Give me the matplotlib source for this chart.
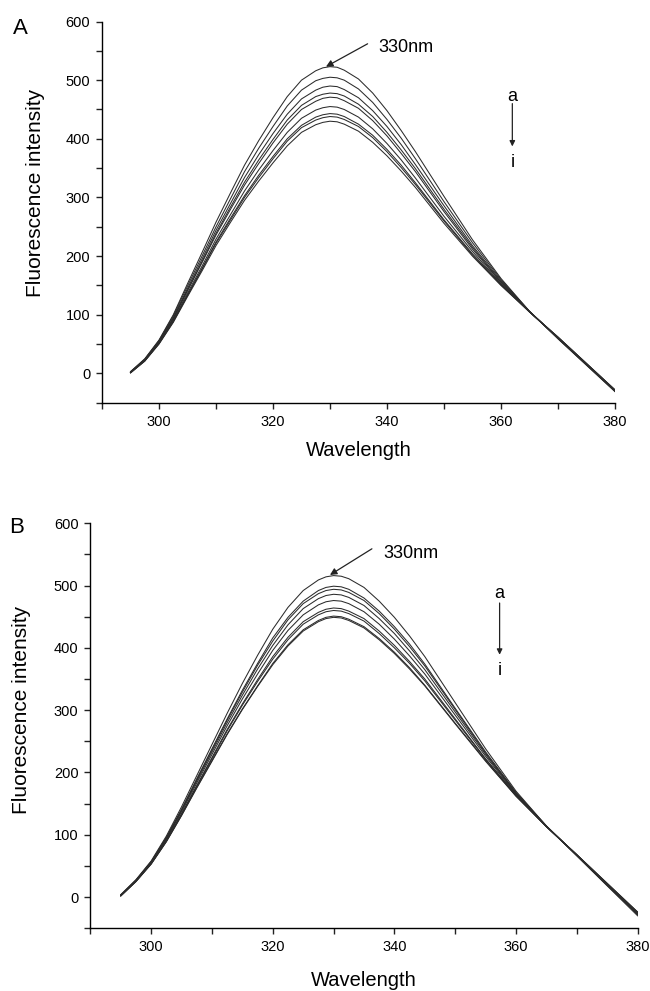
import matplotlib
matplotlib.use("Agg")
import matplotlib.pyplot as plt
from matplotlib.ticker import MultipleLocator

plt.rcParams['font.family'] = ['Liberation Sans', 'DejaVu Sans']

wavelength = [295, 297.5, 300, 302.5, 305, 307.5, 310, 312.5, 315, 317.5, 320, 322.5,
              325, 327.5, 328.75, 330, 331.25, 332.5, 335, 337.5, 340, 342.5, 345, 350,
              355, 360, 365, 370, 375, 380]

# Panel A spectra (curves a..i)
A_a = [3,25,57,100,153,205,258,307,355,397,436,472,500,516,521,523,522,517,502,478,448,414,378,302,228,162,106,59,14,-31]
A_b = [3,24,56,98,149,199,250,297,344,384,421,456,483,499,503,505,504,500,485,462,433,401,366,293,223,160,106,60,15,-30]
A_c = [2,24,55,95,145,194,244,289,334,373,409,442,468,483,488,490,489,484,470,448,421,390,356,286,218,158,106,60,15,-30]
A_d = [2,23,54,94,142,190,239,283,326,364,399,432,457,472,476,478,477,473,459,438,411,381,349,280,215,156,106,60,15,-30]
A_e = [2,23,53,93,141,188,236,279,321,358,393,425,450,464,469,471,470,465,452,431,405,375,344,276,212,155,105,61,16,-29]
A_f = [2,22,52,91,137,182,229,270,311,347,380,411,435,449,453,455,454,450,437,417,392,364,333,268,208,153,105,61,16,-29]
A_g = [1,22,51,89,134,178,224,264,303,338,370,400,423,437,441,443,442,438,425,406,382,355,325,262,204,152,105,62,17,-28]
A_h = [1,21,51,88,133,177,222,261,300,334,366,396,419,432,436,438,437,433,421,402,378,351,322,260,202,151,105,62,17,-28]
A_i = [1,21,50,87,131,174,218,257,295,328,359,388,411,424,428,430,429,425,413,394,371,345,317,256,200,150,105,62,17,-28]

# Panel B spectra (curves a..i)
B_a = [4,28,58,98,145,195,245,295,343,388,430,465,492,509,514,516,515,511,497,475,449,419,386,312,238,170,114,66,18,-30]
B_b = [3,27,57,96,141,190,238,286,332,375,416,449,475,492,497,499,498,494,480,459,434,406,374,303,233,168,114,67,19,-28]
B_c = [3,27,56,95,140,188,236,284,329,372,411,445,471,487,492,494,493,489,476,455,430,402,371,301,231,167,114,67,19,-28]
B_d = [3,27,56,94,139,186,233,280,324,366,404,437,463,479,484,486,485,481,468,447,423,395,365,297,229,166,114,67,20,-27]
B_e = [3,26,55,93,137,183,229,275,318,358,396,428,453,469,474,476,475,471,458,438,414,387,358,292,226,165,113,67,20,-26]
B_f = [2,26,54,91,134,179,224,269,310,349,386,417,442,457,462,464,463,459,447,427,404,378,350,286,222,164,113,68,21,-25]
B_g = [2,25,54,90,133,178,222,267,308,346,382,413,438,453,458,460,459,455,443,423,400,375,347,284,221,163,113,68,21,-25]
B_h = [2,25,53,89,131,176,219,262,302,339,375,405,429,444,449,451,450,446,434,415,393,368,340,279,219,162,113,68,22,-24]
B_i = [2,25,53,89,131,175,218,261,301,338,373,403,427,442,447,449,448,444,432,413,391,366,339,278,218,162,113,68,22,-24]

panels = [
    dict(label="A", curves=[A_a, A_b, A_c, A_d, A_e, A_f, A_g, A_h, A_i],
         rect=[0.157, 0.5936, 0.789, 0.3847],
         peak=(329.3, 523), tail=(336.6, 562), text=(338.4, 556),
         a_pos=(362, 472), arr=(460, 387), i_pos=(362, 360),
         letter=(0.020, 0.982), ylab=(-0.112, 0.55), xpad=9),
    dict(label="B", curves=[B_a, B_b, B_c, B_d, B_e, B_f, B_g, B_h, B_i],
         rect=[0.139, 0.0633, 0.842, 0.4087],
         peak=(329.4, 517), tail=(336.3, 559), text=(338.2, 552),
         a_pos=(357.3, 488), arr=(472, 389), i_pos=(357.3, 364),
         letter=(0.014, 0.478), ylab=(-0.108, 0.54), xpad=12),
]

fig = plt.figure(figsize=(6.5, 9.91), dpi=100)

for p in panels:
    ax = fig.add_axes(p["rect"])
    for c in p["curves"]:
        ax.plot(wavelength, c, color="#2b2b2b", lw=0.75)
    ax.set_xlim(290, 380)
    ax.set_ylim(-50, 600)
    ax.spines['top'].set_visible(False)
    ax.spines['right'].set_visible(False)
    for s in ('left', 'bottom'):
        ax.spines[s].set_linewidth(1.0)
    ax.xaxis.set_major_locator(MultipleLocator(20))
    ax.xaxis.set_minor_locator(MultipleLocator(10))
    ax.yaxis.set_major_locator(MultipleLocator(100))
    ax.yaxis.set_minor_locator(MultipleLocator(50))
    ax.tick_params(which='both', direction='out', width=1.0, labelsize=10.5, color='#222222')
    ax.tick_params(which='major', length=4.5, pad=4)
    ax.tick_params(which='minor', length=4.5)
    ax.set_xticks([300, 320, 340, 360, 380])
    ax.set_xlabel("Wavelength", fontsize=14.5, labelpad=p["xpad"])
    ax.set_ylabel("Fluorescence intensity", fontsize=15)
    ax.yaxis.set_label_coords(p["ylab"][0], p["ylab"][1])
    ax.annotate("", xy=p["peak"], xytext=p["tail"],
                arrowprops=dict(arrowstyle="-|>", color="#222222", lw=0.9,
                                mutation_scale=10, shrinkA=0, shrinkB=0))
    ax.text(p["text"][0], p["text"][1], "330nm", fontsize=13, ha="left", va="center")
    ax.text(p["a_pos"][0], p["a_pos"][1], "a", fontsize=13, ha="center", va="center")
    ax.annotate("", xy=(p["a_pos"][0], p["arr"][1]), xytext=(p["a_pos"][0], p["arr"][0]),
                arrowprops=dict(arrowstyle="-|>", color="#222222", lw=0.9,
                                mutation_scale=8, shrinkA=0, shrinkB=0))
    ax.text(p["i_pos"][0], p["i_pos"][1], "i", fontsize=13, ha="center", va="center")
    fig.text(p["letter"][0], p["letter"][1], p["label"], fontsize=16, ha="left", va="top")

fig.savefig("out.png", dpi=100)
